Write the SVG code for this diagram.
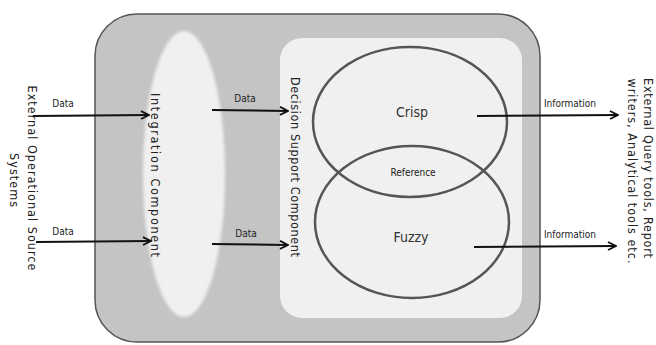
<svg xmlns="http://www.w3.org/2000/svg" width="656" height="345" viewBox="0 0 656 345">
<style>
text{font-family:"DejaVu Sans Condensed","Liberation Sans",sans-serif;fill:#222}
.lbl{font-size:10px}
.rot{font-size:12.5px}
.big{font-size:14px;fill:#333}
.conn line{stroke:#111;stroke-width:2;marker-end:url(#ah)}
</style>
<defs>
<marker id="ah" viewBox="0 0 10 10" refX="9" refY="5" markerWidth="5" markerHeight="5" orient="auto" markerUnits="strokeWidth">
<path d="M1,1 L9,5 L1,9" fill="none" stroke="#111" stroke-width="1.8"/>
</marker>
<filter id="blur" x="-20%" y="-10%" width="140%" height="120%"><feGaussianBlur stdDeviation="1.5"/></filter>
</defs>
<rect width="656" height="345" fill="#fff"/>
<g id="container">
<rect x="95" y="14" width="445" height="328" rx="42" fill="#c4c4c4" stroke="#555" stroke-width="1.5"/>
</g>
<g id="integration">
<ellipse cx="184" cy="174" rx="41" ry="143" fill="#f0f0f0" filter="url(#blur)"/>
<text class="rot" transform="translate(151,175) rotate(90)" text-anchor="middle" textLength="164" lengthAdjust="spacing">Integration Component</text>
</g>
<g id="decision">
<rect x="280" y="38" width="242" height="280" rx="22" fill="#f0f0f0"/>
<text class="rot" transform="translate(291,167) rotate(90)" text-anchor="middle" textLength="180" lengthAdjust="spacing">Decision Support Component</text>
</g>
<g id="crisp">
<ellipse cx="410" cy="122" rx="97" ry="75" fill="none" stroke="#555" stroke-width="2.5"/>
<text class="big" x="412" y="117" text-anchor="middle">Crisp</text>
</g>
<g id="fuzzy">
<ellipse cx="412" cy="222" rx="97" ry="76" fill="none" stroke="#555" stroke-width="2.5"/>
<text class="big" x="411" y="242" text-anchor="middle">Fuzzy</text>
</g>
<g id="reference">
<text class="lbl" x="413" y="176" text-anchor="middle">Reference</text>
</g>
<g id="sources">
<text class="rot" transform="translate(28,178) rotate(90)" text-anchor="middle" textLength="185" lengthAdjust="spacing">External Operational Source</text>
<text class="rot" transform="translate(10,180) rotate(90)" text-anchor="middle" textLength="54" lengthAdjust="spacing">Systems</text>
</g>
<g id="tools">
<text class="rot" transform="translate(644,168) rotate(90)" text-anchor="middle" textLength="180" lengthAdjust="spacing">External Query tools, Report</text>
<text class="rot" transform="translate(628,171) rotate(90)" text-anchor="middle" textLength="185" lengthAdjust="spacing">writers, Analytical tools etc.</text>
</g>
<g id="connectors" class="conn">
<line x1="33" y1="116" x2="149" y2="115"/>
<line x1="36" y1="242" x2="151" y2="241"/>
<line x1="212" y1="110" x2="288" y2="111"/>
<line x1="212" y1="244" x2="288" y2="245"/>
<line x1="477" y1="116" x2="618" y2="115"/>
<line x1="474" y1="247" x2="616" y2="246"/>
<text class="lbl" x="63" y="107" text-anchor="middle">Data</text>
<text class="lbl" x="63" y="235" text-anchor="middle">Data</text>
<text class="lbl" x="245" y="102" text-anchor="middle">Data</text>
<text class="lbl" x="246" y="237" text-anchor="middle">Data</text>
<text class="lbl" x="570" y="107" text-anchor="middle">Information</text>
<text class="lbl" x="570" y="238" text-anchor="middle">Information</text>
</g>
</svg>
